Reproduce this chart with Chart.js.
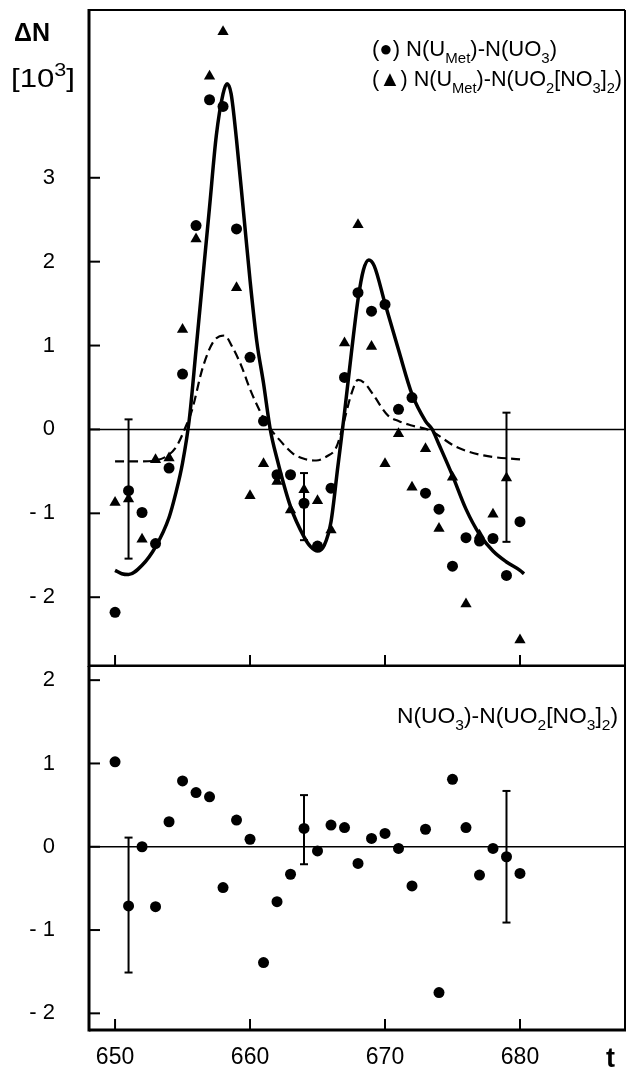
<!DOCTYPE html>
<html>
<head>
<meta charset="utf-8">
<script src="https://cdn.jsdelivr.net/npm/chart.js@4.4.1/dist/chart.umd.min.js"></script>
<style>
  html, body { margin: 0; padding: 0; background: #fff; }
  #wrap { position: relative; width: 630px; height: 1073px; }
  canvas { position: absolute; left: 0; }
  #top-chart { top: 0; }
  #bottom-chart { top: 666px; }
</style>
</head>
<body>
<div id="wrap">
  <canvas id="top-chart" width="630" height="667"></canvas>
  <canvas id="bottom-chart" width="630" height="407"></canvas>
</div>
<script>
// measurement channels t
const tValues = [650, 651, 652, 653, 654, 655, 656, 657, 658, 659, 660, 661, 662, 663, 664, 665,
                 666, 667, 668, 669, 670, 671, 672, 673, 674, 675, 676, 677, 678, 679, 680];

// (●) N(U_Met) - N(UO3)
const metMinusUO3 = [-2.18, -0.73, -0.99, -1.36, -0.46, 0.66, 2.43, 3.93, 3.85, 2.39, 0.86, 0.10, -0.54, -0.54, -0.88, -1.39,
                     -0.70, 0.62, 1.63, 1.41, 1.49, 0.24, 0.38, -0.76, -0.95, -1.63, -1.29, -1.33, -1.30, -1.74, -1.10];

// (▲) N(U_Met) - N(UO2[NO3]2)
const metMinusNitrate = [-0.87, -0.83, -1.31, -0.36, -0.34, 1.19, 2.27, 4.21, 4.74, 1.69, -0.79, -0.41, -0.62, -0.96, -0.72, -0.85,
                         -1.20, 1.03, 2.44, 0.99, -0.41, -0.05, -0.69, -0.23, -1.18, -0.57, -2.08, -1.26, -1.01, -0.58, -2.51];

// N(UO3) - N(UO2[NO3]2)
const uo3MinusNitrate = [1.02, -0.71, 0.00, -0.72, 0.30, 0.79, 0.65, 0.60, -0.49, 0.32, 0.09, -1.39, -0.66, -0.33, 0.22, -0.05,
                         0.26, 0.23, -0.20, 0.10, 0.16, -0.02, -0.47, 0.21, -1.75, 0.81, 0.23, -0.34, -0.02, -0.12, -0.32];

// solid fitted curve
const fitT = [650.0, 650.5, 651.0, 652.0, 653.0, 654.0, 654.5, 655.0, 655.5, 656.0, 656.5, 657.0, 657.5, 658.0, 658.3, 658.6,
              659.0, 659.5, 660.0, 660.5, 661.0, 661.5, 662.0, 663.0, 664.0, 664.5, 665.0, 665.5, 666.0, 666.5, 667.0, 667.5,
              668.0, 668.4, 668.8, 669.2, 670.0, 671.0, 672.0, 673.0, 673.5, 674.0, 675.0, 676.0, 677.0, 678.0, 679.0, 680.0, 680.3];
const fitN = [-1.68, -1.72, -1.73, -1.62, -1.40, -1.05, -0.76, -0.40, 0.12, 0.95, 1.80, 2.65, 3.50, 4.00, 4.12, 4.00,
              3.45, 2.62, 1.78, 1.05, 0.55, 0.00, -0.35, -0.92, -1.28, -1.40, -1.45, -1.38, -1.10, -0.45, 0.20, 0.90,
              1.55, 1.90, 2.02, 1.95, 1.50, 0.95, 0.42, 0.10, 0.00, -0.18, -0.55, -0.95, -1.25, -1.45, -1.58, -1.68, -1.72];

// dashed curve
const dashT = [650.0, 651.0, 652.0, 653.0, 654.0, 654.6, 655.2, 655.7, 656.5, 657.3, 658.1, 658.7, 659.4, 660.0, 660.7, 661.3,
               662.0, 663.2, 664.0, 664.9, 665.7, 666.4, 667.0, 667.5, 668.0, 668.5, 669.1, 670.2, 671.0, 671.9, 673.3, 675.3, 677.3, 680.2];
const dashN = [-0.38, -0.38, -0.38, -0.37, -0.30, -0.19, 0.02, 0.23, 0.74, 1.05, 1.12, 0.98, 0.74, 0.48, 0.23, 0.05,
               -0.09, -0.29, -0.35, -0.37, -0.32, -0.21, 0.12, 0.42, 0.59, 0.55, 0.42, 0.17, 0.10, 0.05, -0.01, -0.21, -0.31, -0.36];

// error bars
const topErrT = [651, 664, 679];
const topErrMid = [-0.71, -0.92, -0.57];
const topErrHalf = [0.83, 0.40, 0.77];
const bottomErrT = [651, 664, 679];
const bottomErrMid = [-0.70, 0.205, -0.12];
const bottomErrHalf = [0.81, 0.415, 0.79];

// ticks
const xTickLabels = [650, 660, 670, 680];
const topYTicks = [-2, -1, 0, 1, 2, 3];
const bottomYTicks = [-2, -1, 0, 1, 2];

const FONT = '"Liberation Sans", Arial, sans-serif';
Chart.defaults.font.family = FONT;
Chart.defaults.color = '#000';

const pts = (xs, ys) => xs.map((x, i) => ({ x: x, y: ys[i] }));

function drawRich(ctx, parts, x, y, size, width) {
  const subSize = Math.round(size * 0.68);
  const setFont = mode => { ctx.font = (mode ? subSize : size) + 'px ' + FONT; };
  let natural = 0;
  parts.forEach(([txt, mode]) => { setFont(mode); natural += ctx.measureText(txt).width; });
  const k = width ? width / natural : 1;
  ctx.save();
  ctx.translate(x, y);
  ctx.scale(k, 1);
  ctx.fillStyle = '#000';
  ctx.textBaseline = 'alphabetic';
  let cx = 0;
  parts.forEach(([txt, mode]) => {
    setFont(mode);
    const dy = mode === 'sub' ? size * 0.3 : mode === 'sup' ? -size * 0.42 : 0;
    ctx.fillText(txt, cx, dy);
    cx += ctx.measureText(txt).width;
  });
  ctx.restore();
}

function seg(ctx, x1, y1, x2, y2) {
  ctx.beginPath();
  ctx.moveTo(x1, y1);
  ctx.lineTo(x2, y2);
  ctx.stroke();
}

function framePlugin(yTicks, errT, errMid, errHalf, extra) {
  return {
    id: 'frame',
    beforeDatasetsDraw(chart) {
      const { ctx, chartArea: a, scales: { y } } = chart;
      ctx.save();
      ctx.strokeStyle = '#000';
      ctx.lineWidth = 1.5;
      const y0 = y.getPixelForValue(0);
      seg(ctx, a.left, y0, a.right, y0);
      ctx.restore();
    },
    afterDatasetsDraw(chart) {
      const { ctx, scales: { x, y } } = chart;
      ctx.save();
      ctx.strokeStyle = '#000';
      ctx.lineWidth = 2;
      errT.forEach((t, i) => {
        const px = x.getPixelForValue(t);
        const hi = y.getPixelForValue(errMid[i] + errHalf[i]);
        const lo = y.getPixelForValue(errMid[i] - errHalf[i]);
        seg(ctx, px, hi, px, lo);
        seg(ctx, px - 4, hi, px + 4, hi);
        seg(ctx, px - 4, lo, px + 4, lo);
      });
      ctx.restore();
    },
    afterDraw(chart) {
      const { ctx, chartArea: a, scales: { x, y } } = chart;
      ctx.save();
      ctx.strokeStyle = '#000';
      ctx.lineWidth = 2;
      yTicks.forEach(v => {
        const py = y.getPixelForValue(v);
        seg(ctx, a.left, py, a.left + 11, py);
      });
      xTickLabels.forEach(v => {
        const px = x.getPixelForValue(v);
        seg(ctx, px, a.bottom, px, a.bottom - 11);
      });
      ctx.lineWidth = 2;
      seg(ctx, a.left, a.top, a.right, a.top);
      seg(ctx, a.right, a.top, a.right, a.bottom);
      ctx.lineWidth = 3;
      seg(ctx, a.left, a.top - 1, a.left, a.bottom + 1.5);
      seg(ctx, a.left, a.bottom, a.right + 1, a.bottom);
      ctx.restore();
      extra(ctx, chart);
    }
  };
}

function noPadding(s) {
  s.paddingTop = 0;
  s.paddingBottom = 0;
  s.paddingLeft = 0;
  s.paddingRight = 0;
}

function baseOptions(yMin, yMax, yTicks, xHeight, showXLabels, padTop) {
  return {
    responsive: false,
    animation: false,
    devicePixelRatio: 1,
    layout: { padding: { left: 0, right: 5, top: padTop, bottom: 0 }, autoPadding: false },
    plugins: { legend: { display: false }, tooltip: { enabled: false } },
    scales: {
      x: {
        type: 'linear',
        min: 648.07,
        max: 687.78,
        grid: { display: false, drawTicks: false },
        border: { display: false },
        afterBuildTicks: s => { s.ticks = xTickLabels.map(v => ({ value: v })); },
        afterFit: s => { s.height = xHeight; noPadding(s); },
        ticks: {
          display: showXLabels,
          padding: 14,
          font: { size: 23 },
          maxRotation: 0,
          callback: v => String(v)
        }
      },
      y: {
        min: yMin,
        max: yMax,
        grid: { display: false, drawTicks: false },
        border: { display: false },
        afterBuildTicks: s => { s.ticks = yTicks.map(v => ({ value: v })); },
        afterFit: s => { s.width = 89; noPadding(s); },
        ticks: {
          padding: 34,
          font: { size: 22 },
          callback: v => (v < 0 ? '- ' + Math.abs(v) : String(v))
        }
      }
    }
  };
}

// top panel
new Chart(document.getElementById('top-chart'), {
  type: 'scatter',
  data: {
    datasets: [
      {
        data: pts(fitT, fitN),
        showLine: true,
        borderColor: '#000',
        borderWidth: 3.5,
        pointRadius: 0,
        cubicInterpolationMode: 'monotone'
      },
      {
        data: pts(dashT, dashN),
        showLine: true,
        borderColor: '#000',
        borderWidth: 2.2,
        borderDash: [9, 5],
        pointRadius: 0,
        cubicInterpolationMode: 'monotone'
      },
      {
        data: pts(tValues, metMinusUO3),
        pointStyle: 'circle',
        pointRadius: 5.5,
        backgroundColor: '#000',
        borderWidth: 0
      },
      {
        data: pts(tValues, metMinusNitrate),
        pointStyle: 'triangle',
        pointRadius: 6.5,
        backgroundColor: '#000',
        borderWidth: 0
      }
    ]
  },
  options: baseOptions(-2.82, 5.0, topYTicks, 1, false, 10),
  plugins: [framePlugin(topYTicks, topErrT, topErrMid, topErrHalf, (ctx) => {
    // axis title
    ctx.save();
    ctx.fillStyle = '#000';
    ctx.font = 'bold 25px ' + FONT;
    ctx.fillText('\u0394N', 14, 41);
    ctx.restore();
    drawRich(ctx, [['[10', ''], ['3', 'sup'], [']', '']], 11, 87, 26, 64);
    // legend
    drawRich(ctx, [['(\u25CF) N(U', ''], ['Met', 'sub'], [')-N(UO', ''], ['3', 'sub'], [')', '']], 372, 56, 22, 185);
    drawRich(ctx, [['(\u25B2) N(U', ''], ['Met', 'sub'], [')-N(UO', ''], ['2', 'sub'], ['[NO', ''], ['3', 'sub'], [']', ''], ['2', 'sub'], [')', '']], 372, 86, 22, 250);
  })]
});

// bottom panel
new Chart(document.getElementById('bottom-chart'), {
  type: 'scatter',
  data: {
    datasets: [
      {
        data: pts(tValues, uo3MinusNitrate),
        pointStyle: 'circle',
        pointRadius: 5.5,
        backgroundColor: '#000',
        borderWidth: 0
      }
    ]
  },
  options: baseOptions(-2.2, 2.17, bottomYTicks, 43, true, 0),
  plugins: [framePlugin(bottomYTicks, bottomErrT, bottomErrMid, bottomErrHalf, (ctx) => {
    drawRich(ctx, [['N(UO', ''], ['3', 'sub'], [')-N(UO', ''], ['2', 'sub'], ['[NO', ''], ['3', 'sub'], [']', ''], ['2', 'sub'], [')', '']], 397, 57, 22, 221);
    ctx.save();
    ctx.fillStyle = '#000';
    ctx.font = 'bold 27px ' + FONT;
    ctx.fillText('t', 606, 401);
    ctx.restore();
  })]
});
</script>
</body>
</html>
